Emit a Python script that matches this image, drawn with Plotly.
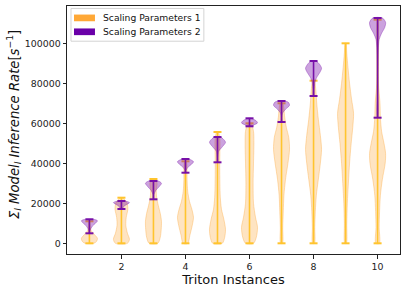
import plotly.graph_objects as go

# ---- data ----
positions = [1, 2, 3, 4, 5, 6, 7, 8, 9, 10]
x_ticks = [2, 4, 6, 8, 10]
y_ticks = [0, 20000, 40000, 60000, 80000, 100000]

# Scaling Parameters 1 : min / max per instance count
sp1_min = [0, 0, 0, 0, 0, 0, 0, 0, 0, 0]
sp1_max = [11000, 22800, 32150, 41000, 55650, 60000, 70000, 81300, 100000, 111800]
# violin outline: value levels and relative half-widths (0..1)
sp1_levels = [
    [0, 1000, 2500, 4500, 6500, 8500, 11000],
    [0, 2000, 5000, 9000, 13000, 17000, 20000, 22800],
    [0, 3000, 7000, 11000, 15000, 19000, 23000, 27000, 30000, 32150],
    [0, 4000, 9000, 13000, 17000, 21000, 26000, 32000, 37000, 41000],
    [0, 3000, 7000, 12000, 17000, 23000, 30000, 38000, 46000, 52000, 55650],
    [0, 3000, 8000, 13000, 20000, 30000, 40000, 50000, 56000, 60000],
    [0, 8000, 16000, 24000, 32000, 40000, 47000, 53000, 58000, 63000, 70000],
    [0, 8000, 16000, 24000, 32000, 40000, 47000, 54000, 62000, 70000, 76000, 81300],
    [0, 10000, 20000, 30000, 40000, 50000, 58000, 65000, 72000, 80000, 88000, 95000, 100000],
    [0, 8000, 16000, 24000, 32000, 40000, 45000, 50000, 56000, 63000, 70000, 80000, 95000, 111800],
]
sp1_widths = [
    [0.55, 0.9, 1.0, 0.6, 0.2, 0.08, 0.03],
    [0.75, 1.0, 0.75, 0.55, 0.6, 0.8, 0.7, 0.15],
    [0.55, 0.85, 0.97, 1.0, 0.85, 0.6, 0.4, 0.35, 0.45, 0.15],
    [0.3, 0.55, 0.85, 1.0, 0.8, 0.5, 0.28, 0.2, 0.2, 0.1],
    [0.6, 0.9, 1.0, 0.8, 0.5, 0.35, 0.3, 0.28, 0.3, 0.3, 0.1],
    [0.5, 0.85, 1.0, 0.75, 0.5, 0.45, 0.5, 0.55, 0.5, 0.2],
    [0.12, 0.15, 0.22, 0.3, 0.5, 0.8, 1.0, 0.9, 0.6, 0.4, 0.15],
    [0.12, 0.15, 0.22, 0.35, 0.6, 0.85, 1.0, 0.85, 0.6, 0.4, 0.3, 0.1],
    [0.1, 0.15, 0.22, 0.35, 0.5, 0.7, 0.9, 1.0, 0.75, 0.5, 0.3, 0.15, 0.05],
    [0.22, 0.2, 0.25, 0.35, 0.6, 0.95, 1.0, 0.8, 0.5, 0.35, 0.3, 0.1, 0.06, 0.03],
]

# Scaling Parameters 2 (no run at 9 instances)
sp2_positions = [1, 2, 3, 4, 5, 6, 7, 8, 10]
sp2_min = [5000, 17150, 22000, 35300, 40500, 58500, 60650, 73650, 62800]
sp2_max = [12000, 21150, 31150, 42150, 53150, 62500, 71150, 91150, 112650]
sp2_levels = [
    [5000, 6500, 8500, 10000, 11300, 12000],
    [17150, 18500, 19500, 20300, 20800, 21150],
    [22000, 24500, 26500, 28500, 30000, 31150],
    [35300, 36500, 38000, 39500, 40800, 42150],
    [40500, 43000, 46000, 48000, 50500, 52200, 53150],
    [58500, 59300, 60200, 61200, 62000, 62500],
    [60650, 63000, 65000, 67000, 69000, 70500, 71150],
    [73650, 77000, 80000, 83000, 85500, 87500, 89500, 91150],
    [62800, 75000, 90000, 98000, 102000, 105000, 108000, 110500, 112650],
]
sp2_widths = [
    [0.05, 0.1, 0.35, 0.75, 1.0, 0.5],
    [0.1, 0.3, 0.7, 1.0, 0.8, 0.3],
    [0.05, 0.08, 0.3, 0.75, 1.0, 0.6],
    [0.05, 0.08, 0.3, 0.75, 1.0, 0.4],
    [0.05, 0.07, 0.15, 0.55, 1.0, 0.7, 0.35],
    [0.2, 0.6, 1.0, 0.85, 0.5, 0.2],
    [0.05, 0.06, 0.12, 0.5, 1.0, 0.85, 0.4],
    [0.05, 0.08, 0.15, 0.4, 0.8, 1.0, 0.75, 0.3],
    [0.04, 0.05, 0.06, 0.1, 0.2, 0.5, 0.9, 1.0, 0.6],
]

series_names = ["Scaling Parameters 1", "Scaling Parameters 2"]
x_title = "Triton Instances"
y_title = "<i>Σ<sub>l</sub> Model<sub>l</sub> Inference Rate</i>[<i>s</i><sup>−1</sup>]"

# ---- styles ----
HALF_W = 0.25   # max half width of a violin (x units)
CAP_W = 0.125   # half length of min/max caps
FONT = "DejaVu Sans"

styles = [
    dict(fill="rgba(252,166,54,0.30)", edge="rgba(252,166,54,0.45)",
         line="#FFC42E", legend="#FFA836"),
    dict(fill="rgba(118,10,168,0.38)", edge="rgba(118,10,168,0.45)",
         line="#7710A8", legend="#6A00A8"),
]

fig = go.Figure()


def add_series(pos_list, levels, widths, mins, maxs, st):
    for p, lv, wd in zip(pos_list, levels, widths):
        xs = [p + HALF_W * w for w in wd] + [p - HALF_W * w for w in reversed(wd)]
        ys = list(lv) + list(reversed(lv))
        fig.add_trace(go.Scatter(
            x=xs + [xs[0]], y=ys + [ys[0]], mode="lines", fill="toself",
            fillcolor=st["fill"], line=dict(color=st["edge"], width=0.8, shape="spline", smoothing=0.8),
            showlegend=False, hoverinfo="skip"))
    vx, vy = [], []
    for p, lo, hi in zip(pos_list, mins, maxs):
        vx += [p, p, None]
        vy += [lo, hi, None]
    fig.add_trace(go.Scatter(x=vx, y=vy, mode="lines",
                             line=dict(color=st["line"], width=1.6),
                             showlegend=False, hoverinfo="skip"))
    cx, cy = [], []
    for p, lo, hi in zip(pos_list, mins, maxs):
        cx += [p - CAP_W, p + CAP_W, None, p - CAP_W, p + CAP_W, None]
        cy += [lo, lo, None, hi, hi, None]
    fig.add_trace(go.Scatter(x=cx, y=cy, mode="lines",
                             line=dict(color=st["line"], width=2),
                             showlegend=False, hoverinfo="skip"))


add_series(positions, sp1_levels, sp1_widths, sp1_min, sp1_max, styles[0])
add_series(sp2_positions, sp2_levels, sp2_widths, sp2_min, sp2_max, styles[1])

# ---- legend drawn as shapes + text (paper coordinates) ----
shapes = [dict(type="rect", xref="paper", yref="paper",
               x0=0.012, x1=0.411, y0=0.858, y1=0.990,
               line=dict(color="#d4d4d4", width=1), fillcolor="rgba(255,255,255,0.85)",
               layer="above")]
annotations = []
row_y = [0.952, 0.896]
for name, st, yc in zip(series_names, styles, row_y):
    shapes.append(dict(type="rect", xref="paper", yref="paper",
                       x0=0.021, x1=0.084, y0=yc - 0.0135, y1=yc + 0.0135,
                       line=dict(width=0), fillcolor=st["legend"], layer="above"))
    annotations.append(dict(xref="paper", yref="paper", x=0.103, y=yc,
                            xanchor="left", yanchor="middle", showarrow=False,
                            text=name, font=dict(family=FONT, size=9.2, color="#111111")))

# y-axis title as rotated annotation (centred on the plot height)
annotations.append(dict(xref="paper", yref="paper", x=-0.162, y=0.5, yshift=5,
                        xanchor="center", yanchor="middle", showarrow=False,
                        textangle=-90, text=y_title,
                        font=dict(family=FONT, size=13.2, color="#111111")))

axis_common = dict(showgrid=False, zeroline=False, showline=True, mirror=True,
                   linecolor="#222222", linewidth=1, ticks="outside", ticklen=3.5,
                   tickwidth=1, tickcolor="#222222",
                   tickfont=dict(family=FONT, size=9.4, color="#222222"))

fig.update_layout(
    width=407, height=293,
    margin=dict(l=67, r=7, t=6, b=39),
    paper_bgcolor="white", plot_bgcolor="white",
    font=dict(family=FONT, color="#111111"),
    xaxis=dict(range=[0.3, 10.7], tickvals=x_ticks,
               title=dict(text=x_title, font=dict(family=FONT, size=13), standoff=4),
               **axis_common),
    yaxis=dict(range=[-5350, 118650], tickvals=y_ticks, tickformat="d",
               **axis_common),
    shapes=shapes,
    annotations=annotations,
    showlegend=False,
)

fig.write_html("out.html", config={"displayModeBar": False},
               post_script="document.body.style.margin='0px';")
